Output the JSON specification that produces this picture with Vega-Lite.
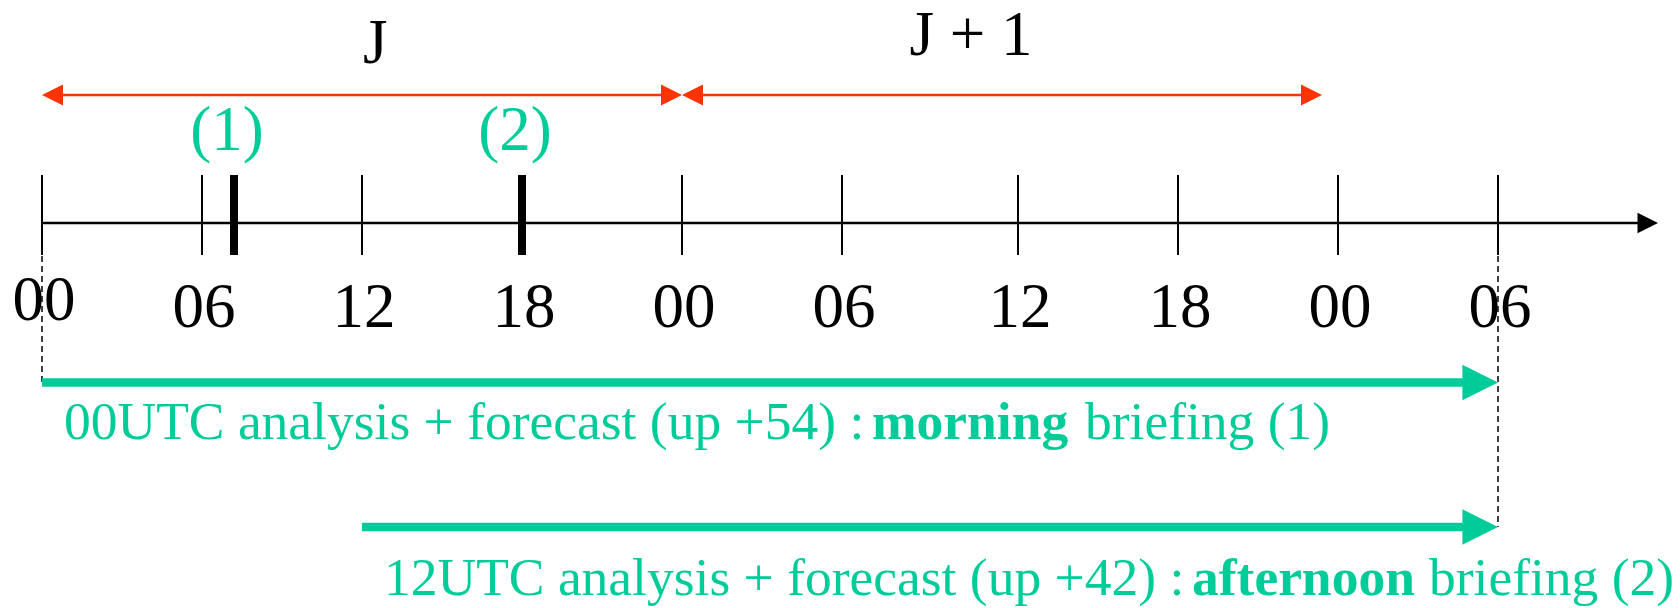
{
  "$schema": "https://vega.github.io/schema/vega-lite/v6.json",
  "width": 1680,
  "height": 608,
  "autosize": "none",
  "padding": 0,
  "background": "white",
  "config": {"view": {"stroke": null}},
  "datasets": {
    "days": [
      {"label": "J", "h": 12.5, "lane": 0, "arrowLane": 1, "from": 0, "to": 24},
      {"label": "J + 1", "h": 34.4, "lane": -0.25, "arrowLane": 1, "from": 24, "to": 47.4}
    ],
    "timeline": [{"from": 0, "to": 60, "lane": 3}],
    "hours": [
      {"h": 0, "label": "00", "lane": 3.93, "tickLane": 3},
      {"h": 6, "label": "06", "lane": 4, "tickLane": 3},
      {"h": 12, "label": "12", "lane": 4, "tickLane": 3},
      {"h": 18, "label": "18", "lane": 4, "tickLane": 3},
      {"h": 24, "label": "00", "lane": 4, "tickLane": 3},
      {"h": 30, "label": "06", "lane": 4, "tickLane": 3},
      {"h": 36, "label": "12", "lane": 4, "tickLane": 3},
      {"h": 42, "label": "18", "lane": 4, "tickLane": 3},
      {"h": 48, "label": "00", "lane": 4, "tickLane": 3},
      {"h": 54, "label": "06", "lane": 4, "tickLane": 3}
    ],
    "briefings": [
      {"h": 7.2, "label": "(1)", "tickLane": 3, "labelLane": 2},
      {"h": 18, "label": "(2)", "tickLane": 3, "labelLane": 2}
    ],
    "guides": [
      {"h": 0, "fromLane": 3, "toLane": 5},
      {"h": 54, "fromLane": 3, "toLane": 7}
    ],
    "runs": [
      {"run": "00UTC", "from": 0, "to": 54, "lane": 5, "textLane": 6, "prefix": "00UTC analysis + forecast (up +54) :", "bold": "morning", "suffix": "briefing (1)"},
      {"run": "12UTC", "from": 12, "to": 54, "lane": 7, "textLane": 8, "prefix": "12UTC analysis + forecast (up +42) :", "bold": "afternoon", "suffix": "briefing (2)"}
    ]
  },
  "layer": [
    {
      "data": {"name": "days"},
      "mark": {"type": "rule", "color": "#FF3300", "strokeWidth": 2.5, "xOffset": 10, "x2Offset": -10},
      "encoding": {
        "x": {"field": "from", "type": "quantitative", "axis": null, "scale": {"type": "linear", "domain": [0, 30, 36, 60], "range": [42, 842, 1018, 1658], "nice": false, "zero": false}},
        "x2": {"field": "to"},
        "y": {"field": "arrowLane", "type": "quantitative", "axis": null, "scale": {"type": "linear", "domain": [0, 1, 2, 3, 4, 5, 6, 7, 8], "range": [63, 95, 150, 223, 327, 382.5, 439, 527, 595], "nice": false, "zero": false}}
      }
    },
    {
      "data": {"name": "days"},
      "mark": {"type": "point", "shape": "M0,0L-2,-1L-2,1Z", "filled": true, "opacity": 1, "size": 441, "color": "#FF3300", "strokeWidth": 0},
      "encoding": {
        "x": {"field": "to", "type": "quantitative", "axis": null, "scale": {"type": "linear", "domain": [0, 30, 36, 60], "range": [42, 842, 1018, 1658], "nice": false, "zero": false}},
        "y": {"field": "arrowLane", "type": "quantitative", "axis": null, "scale": {"type": "linear", "domain": [0, 1, 2, 3, 4, 5, 6, 7, 8], "range": [63, 95, 150, 223, 327, 382.5, 439, 527, 595], "nice": false, "zero": false}}
      }
    },
    {
      "data": {"name": "days"},
      "mark": {"type": "point", "shape": "M0,0L2,-1L2,1Z", "filled": true, "opacity": 1, "size": 441, "color": "#FF3300", "strokeWidth": 0},
      "encoding": {
        "x": {"field": "from", "type": "quantitative", "axis": null, "scale": {"type": "linear", "domain": [0, 30, 36, 60], "range": [42, 842, 1018, 1658], "nice": false, "zero": false}},
        "y": {"field": "arrowLane", "type": "quantitative", "axis": null, "scale": {"type": "linear", "domain": [0, 1, 2, 3, 4, 5, 6, 7, 8], "range": [63, 95, 150, 223, 327, 382.5, 439, 527, 595], "nice": false, "zero": false}}
      }
    },
    {
      "data": {"name": "days"},
      "mark": {"type": "text", "fontSize": 63, "align": "center", "baseline": "alphabetic", "color": "#000000", "font": "Liberation Serif"},
      "encoding": {
        "x": {"field": "h", "type": "quantitative", "axis": null, "scale": {"type": "linear", "domain": [0, 30, 36, 60], "range": [42, 842, 1018, 1658], "nice": false, "zero": false}},
        "y": {"field": "lane", "type": "quantitative", "axis": null, "scale": {"type": "linear", "domain": [0, 1, 2, 3, 4, 5, 6, 7, 8], "range": [63, 95, 150, 223, 327, 382.5, 439, 527, 595], "nice": false, "zero": false}},
        "text": {"field": "label"}
      }
    },
    {
      "data": {"name": "guides"},
      "mark": {"type": "rule", "color": "#000000", "strokeWidth": 1.5, "strokeDash": [6, 4], "yOffset": 33},
      "encoding": {
        "x": {"field": "h", "type": "quantitative", "axis": null, "scale": {"type": "linear", "domain": [0, 30, 36, 60], "range": [42, 842, 1018, 1658], "nice": false, "zero": false}},
        "y": {"field": "fromLane", "type": "quantitative", "axis": null, "scale": {"type": "linear", "domain": [0, 1, 2, 3, 4, 5, 6, 7, 8], "range": [63, 95, 150, 223, 327, 382.5, 439, 527, 595], "nice": false, "zero": false}},
        "y2": {"field": "toLane"}
      }
    },
    {
      "data": {"name": "timeline"},
      "mark": {"type": "rule", "color": "#000000", "strokeWidth": 2.7, "x2Offset": -10},
      "encoding": {
        "x": {"field": "from", "type": "quantitative", "axis": null, "scale": {"type": "linear", "domain": [0, 30, 36, 60], "range": [42, 842, 1018, 1658], "nice": false, "zero": false}},
        "x2": {"field": "to"},
        "y": {"field": "lane", "type": "quantitative", "axis": null, "scale": {"type": "linear", "domain": [0, 1, 2, 3, 4, 5, 6, 7, 8], "range": [63, 95, 150, 223, 327, 382.5, 439, 527, 595], "nice": false, "zero": false}}
      }
    },
    {
      "data": {"name": "timeline"},
      "mark": {"type": "point", "shape": "M0,0L-2,-1L-2,1Z", "filled": true, "opacity": 1, "size": 420, "color": "#000000", "strokeWidth": 0},
      "encoding": {
        "x": {"field": "to", "type": "quantitative", "axis": null, "scale": {"type": "linear", "domain": [0, 30, 36, 60], "range": [42, 842, 1018, 1658], "nice": false, "zero": false}},
        "y": {"field": "lane", "type": "quantitative", "axis": null, "scale": {"type": "linear", "domain": [0, 1, 2, 3, 4, 5, 6, 7, 8], "range": [63, 95, 150, 223, 327, 382.5, 439, 527, 595], "nice": false, "zero": false}}
      }
    },
    {
      "data": {"name": "hours"},
      "mark": {"type": "tick", "orient": "vertical", "color": "#000000", "size": 80, "thickness": 2, "yOffset": -8, "opacity": 1},
      "encoding": {
        "x": {"field": "h", "type": "quantitative", "axis": null, "scale": {"type": "linear", "domain": [0, 30, 36, 60], "range": [42, 842, 1018, 1658], "nice": false, "zero": false}},
        "y": {"field": "tickLane", "type": "quantitative", "axis": null, "scale": {"type": "linear", "domain": [0, 1, 2, 3, 4, 5, 6, 7, 8], "range": [63, 95, 150, 223, 327, 382.5, 439, 527, 595], "nice": false, "zero": false}}
      }
    },
    {
      "data": {"name": "hours"},
      "mark": {"type": "text", "fontSize": 63, "align": "center", "baseline": "alphabetic", "color": "#000000", "dx": 2, "font": "Liberation Serif"},
      "encoding": {
        "x": {"field": "h", "type": "quantitative", "axis": null, "scale": {"type": "linear", "domain": [0, 30, 36, 60], "range": [42, 842, 1018, 1658], "nice": false, "zero": false}},
        "y": {"field": "lane", "type": "quantitative", "axis": null, "scale": {"type": "linear", "domain": [0, 1, 2, 3, 4, 5, 6, 7, 8], "range": [63, 95, 150, 223, 327, 382.5, 439, 527, 595], "nice": false, "zero": false}},
        "text": {"field": "label"}
      }
    },
    {
      "data": {"name": "briefings"},
      "mark": {"type": "tick", "orient": "vertical", "color": "#000000", "size": 80, "thickness": 8, "yOffset": -8, "opacity": 1},
      "encoding": {
        "x": {"field": "h", "type": "quantitative", "axis": null, "scale": {"type": "linear", "domain": [0, 30, 36, 60], "range": [42, 842, 1018, 1658], "nice": false, "zero": false}},
        "y": {"field": "tickLane", "type": "quantitative", "axis": null, "scale": {"type": "linear", "domain": [0, 1, 2, 3, 4, 5, 6, 7, 8], "range": [63, 95, 150, 223, 327, 382.5, 439, 527, 595], "nice": false, "zero": false}}
      }
    },
    {
      "data": {"name": "briefings"},
      "mark": {"type": "text", "fontSize": 63, "align": "center", "baseline": "alphabetic", "color": "#00CC99", "dx": -7, "font": "Liberation Serif"},
      "encoding": {
        "x": {"field": "h", "type": "quantitative", "axis": null, "scale": {"type": "linear", "domain": [0, 30, 36, 60], "range": [42, 842, 1018, 1658], "nice": false, "zero": false}},
        "y": {"field": "labelLane", "type": "quantitative", "axis": null, "scale": {"type": "linear", "domain": [0, 1, 2, 3, 4, 5, 6, 7, 8], "range": [63, 95, 150, 223, 327, 382.5, 439, 527, 595], "nice": false, "zero": false}},
        "text": {"field": "label"}
      }
    },
    {
      "data": {"name": "runs"},
      "mark": {"type": "rule", "color": "#00CC99", "strokeWidth": 8.3, "x2Offset": -30},
      "encoding": {
        "x": {"field": "from", "type": "quantitative", "axis": null, "scale": {"type": "linear", "domain": [0, 30, 36, 60], "range": [42, 842, 1018, 1658], "nice": false, "zero": false}},
        "x2": {"field": "to"},
        "y": {"field": "lane", "type": "quantitative", "axis": null, "scale": {"type": "linear", "domain": [0, 1, 2, 3, 4, 5, 6, 7, 8], "range": [63, 95, 150, 223, 327, 382.5, 439, 527, 595], "nice": false, "zero": false}}
      }
    },
    {
      "data": {"name": "runs"},
      "mark": {"type": "point", "shape": "M0,0L-2,-1L-2,1Z", "filled": true, "opacity": 1, "size": 1267, "color": "#00CC99", "strokeWidth": 0},
      "encoding": {
        "x": {"field": "to", "type": "quantitative", "axis": null, "scale": {"type": "linear", "domain": [0, 30, 36, 60], "range": [42, 842, 1018, 1658], "nice": false, "zero": false}},
        "y": {"field": "lane", "type": "quantitative", "axis": null, "scale": {"type": "linear", "domain": [0, 1, 2, 3, 4, 5, 6, 7, 8], "range": [63, 95, 150, 223, 327, 382.5, 439, 527, 595], "nice": false, "zero": false}}
      }
    },
    {
      "data": {"name": "runs"},
      "mark": {"type": "text", "fontSize": 53.5, "align": "left", "baseline": "alphabetic", "color": "#00CC99", "dx": 22, "font": "Liberation Serif"},
      "encoding": {
        "x": {"field": "from", "type": "quantitative", "axis": null, "scale": {"type": "linear", "domain": [0, 30, 36, 60], "range": [42, 842, 1018, 1658], "nice": false, "zero": false}},
        "y": {"field": "textLane", "type": "quantitative", "axis": null, "scale": {"type": "linear", "domain": [0, 1, 2, 3, 4, 5, 6, 7, 8], "range": [63, 95, 150, 223, 327, 382.5, 439, 527, 595], "nice": false, "zero": false}},
        "text": {"field": "prefix"}
      }
    },
    {
      "data": {"name": "runs"},
      "mark": {"type": "text", "fontSize": 53.5, "fontWeight": "bold", "align": "left", "baseline": "alphabetic", "color": "#00CC99", "dx": 830, "font": "Liberation Serif"},
      "encoding": {
        "x": {"field": "from", "type": "quantitative", "axis": null, "scale": {"type": "linear", "domain": [0, 30, 36, 60], "range": [42, 842, 1018, 1658], "nice": false, "zero": false}},
        "y": {"field": "textLane", "type": "quantitative", "axis": null, "scale": {"type": "linear", "domain": [0, 1, 2, 3, 4, 5, 6, 7, 8], "range": [63, 95, 150, 223, 327, 382.5, 439, 527, 595], "nice": false, "zero": false}},
        "text": {"field": "bold"}
      }
    },
    {
      "data": {"name": "runs"},
      "transform": [{"filter": "datum.run === '00UTC'"}],
      "mark": {"type": "text", "fontSize": 53.5, "align": "left", "baseline": "alphabetic", "color": "#00CC99", "dx": 1043, "font": "Liberation Serif"},
      "encoding": {
        "x": {"field": "from", "type": "quantitative", "axis": null, "scale": {"type": "linear", "domain": [0, 30, 36, 60], "range": [42, 842, 1018, 1658], "nice": false, "zero": false}},
        "y": {"field": "textLane", "type": "quantitative", "axis": null, "scale": {"type": "linear", "domain": [0, 1, 2, 3, 4, 5, 6, 7, 8], "range": [63, 95, 150, 223, 327, 382.5, 439, 527, 595], "nice": false, "zero": false}},
        "text": {"field": "suffix"}
      }
    },
    {
      "data": {"name": "runs"},
      "transform": [{"filter": "datum.run === '12UTC'"}],
      "mark": {"type": "text", "fontSize": 53.5, "align": "left", "baseline": "alphabetic", "color": "#00CC99", "dx": 1067, "font": "Liberation Serif"},
      "encoding": {
        "x": {"field": "from", "type": "quantitative", "axis": null, "scale": {"type": "linear", "domain": [0, 30, 36, 60], "range": [42, 842, 1018, 1658], "nice": false, "zero": false}},
        "y": {"field": "textLane", "type": "quantitative", "axis": null, "scale": {"type": "linear", "domain": [0, 1, 2, 3, 4, 5, 6, 7, 8], "range": [63, 95, 150, 223, 327, 382.5, 439, 527, 595], "nice": false, "zero": false}},
        "text": {"field": "suffix"}
      }
    }
  ]
}
